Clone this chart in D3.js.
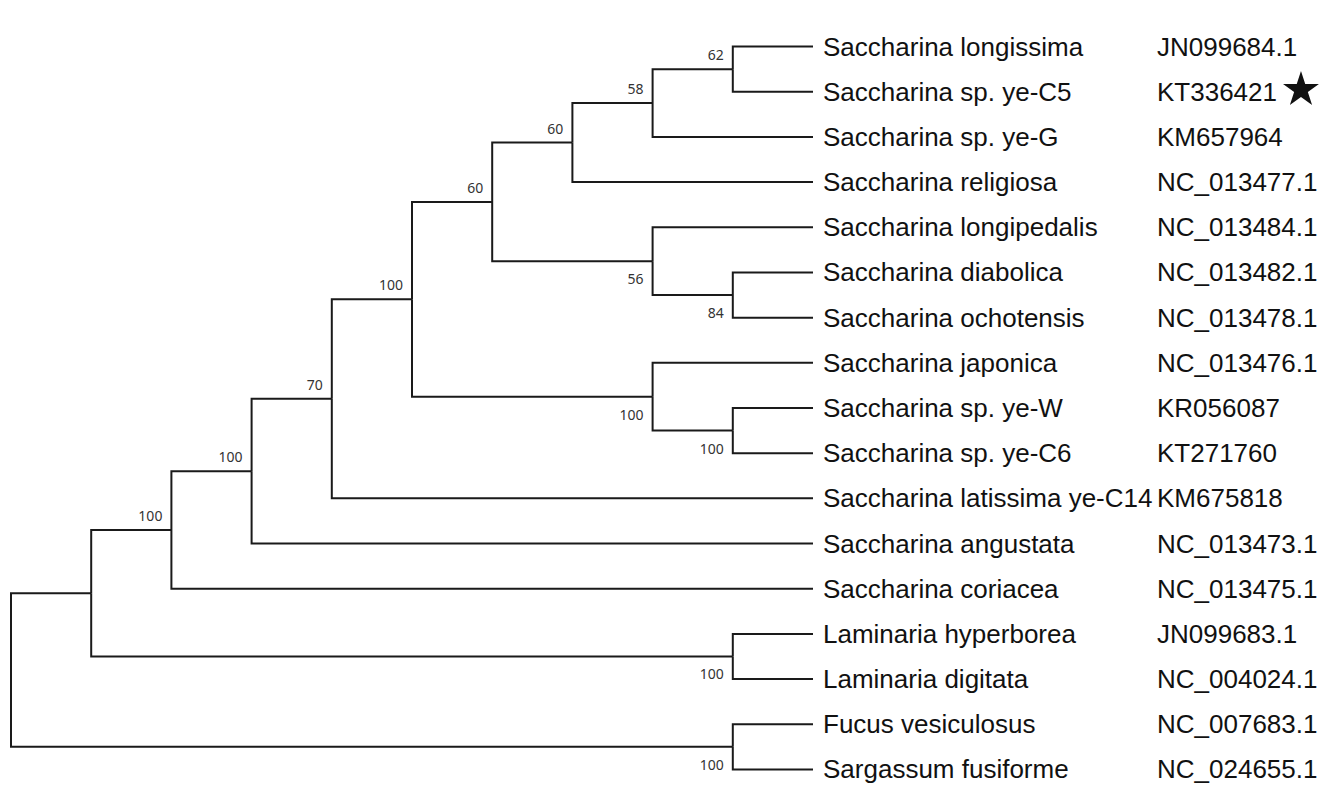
<!DOCTYPE html>
<html>
<head>
<meta charset="utf-8">
<script src="https://cdn.jsdelivr.net/npm/d3@7/dist/d3.min.js"></script>
<style>
  html, body { margin: 0; padding: 0; background: #fff; }
  svg { display: block; }
</style>
</head>
<body>
<svg id="chart" width="1332" height="804"></svg>
<script>
// ---- data ----
const speciesNames = [
  "Saccharina longissima", "Saccharina sp. ye-C5", "Saccharina sp. ye-G",
  "Saccharina religiosa", "Saccharina longipedalis", "Saccharina diabolica",
  "Saccharina ochotensis", "Saccharina japonica", "Saccharina sp. ye-W",
  "Saccharina sp. ye-C6", "Saccharina latissima ye-C14", "Saccharina angustata",
  "Saccharina coriacea", "Laminaria hyperborea", "Laminaria digitata",
  "Fucus vesiculosus", "Sargassum fusiforme"
];
const accessions = [
  "JN099684.1", "KT336421", "KM657964", "NC_013477.1", "NC_013484.1",
  "NC_013482.1", "NC_013478.1", "NC_013476.1", "KR056087", "KT271760",
  "KM675818", "NC_013473.1", "NC_013475.1", "JN099683.1", "NC_004024.1",
  "NC_007683.1", "NC_024655.1"
];
const markedAccessions = ["KT336421"];
// topology (leaf indices) with bootstrap support values after each clade
const topology =
  "((((((((((0,1)62,2)58,3)60,(4,(5,6)84)56)60,(7,(8,9)100)100)100,10)70,11)100,12)100,(13,14)100),(15,16)100)";

// ---- parse ----
function parseTree(s) {
  let i = 0;
  function num() { let t = ""; while (i < s.length && /[0-9]/.test(s[i])) t += s[i++]; return t; }
  function node() {
    if (s[i] === "(") {
      i++;
      const children = [node()];
      while (s[i] === ",") { i++; children.push(node()); }
      i++; // ')'
      const lab = num();
      return { children, support: lab ? +lab : null };
    }
    return { leaf: +num() };
  }
  return node();
}
const tree = parseTree(topology);

// ---- layout ----
const margin = { left: 11, top: 24 };
const treeHeight = 768, treeWidth = 802;
const root = d3.hierarchy(tree, d => d.children);
d3.cluster().size([treeHeight, treeWidth]).separation(() => 1)(root);

const svg = d3.select("#chart");
const g = svg.append("g").attr("transform", `translate(${margin.left},${margin.top})`);

// branches
g.append("g")
  .selectAll("path")
  .data(root.links())
  .join("path")
  .attr("d", l => `M${l.source.y},${l.source.x}V${l.target.x}H${l.target.y}`)
  .attr("fill", "none")
  .attr("stroke", "#1a1a1a")
  .attr("stroke-width", 2);

// support values
const inner = root.descendants().filter(d => d.children && d.data.support != null && d.parent);
g.append("g")
  .selectAll("text")
  .data(inner)
  .join("text")
  .attr("x", d => d.y - 9)
  .attr("y", d => (d.parent.children[0] === d ? d.x - 9 : d.x + 23))
  .attr("text-anchor", "end")
  .attr("font-family", "'Noto Sans', 'DejaVu Sans', sans-serif")
  .attr("font-size", 14)
  .attr("fill", "#333")
  .text(d => d.data.support);

// leaf labels
const leaves = root.leaves();
const labelX = treeWidth + 10;
g.append("g")
  .selectAll("text")
  .data(leaves)
  .join("text")
  .attr("x", labelX)
  .attr("y", d => d.x + 9)
  .attr("font-family", "'Liberation Sans', Arial, sans-serif")
  .attr("font-size", 26)
  .attr("fill", "#111")
  .text(d => speciesNames[d.data.leaf]);

const accX = 1157 - margin.left;
const acc = g.append("g")
  .selectAll("text")
  .data(leaves)
  .join("text")
  .attr("x", accX)
  .attr("y", d => d.x + 9)
  .attr("font-family", "'Liberation Sans', Arial, sans-serif")
  .attr("font-size", 26)
  .attr("fill", "#111")
  .text(d => accessions[d.data.leaf]);

// star marker
acc.each(function(d) {
  if (markedAccessions.includes(accessions[d.data.leaf])) {
    const w = this.getComputedTextLength();
    g.append("path")
      .attr("d", d3.symbol(d3.symbolStar, 400)())
      .attr("transform", `translate(${accX + w + 24},${d.x - 2})`)
      .attr("fill", "#111");
  }
});
</script>
</body>
</html>
